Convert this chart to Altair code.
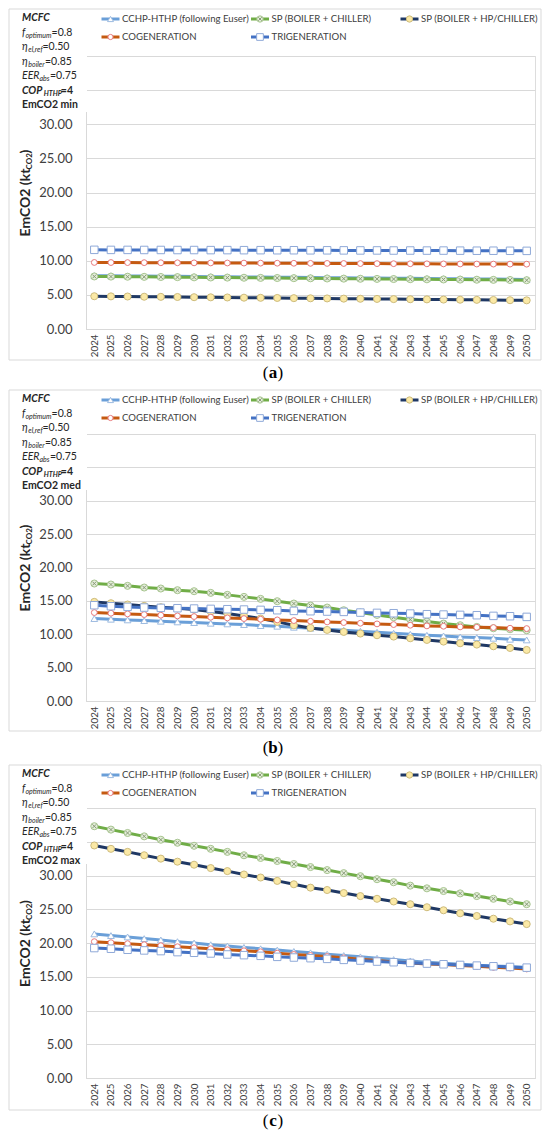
import altair as alt
import pandas as pd

YEARS = ["2024", "2025", "2026", "2027", "2028", "2029", "2030", "2031", "2032",
         "2033", "2034", "2035", "2036", "2037", "2038", "2039", "2040", "2041",
         "2042", "2043", "2044", "2045", "2046", "2047", "2048", "2049", "2050"]

SERIES = ["CCHP-HTHP (following Euser)", "SP (BOILER + CHILLER)",
          "SP (BOILER + HP/CHILLER)", "COGENERATION", "TRIGENERATION"]

# ---- panel (a): EmCO2 min ----
A_CCHP = [7.82, 7.80, 7.78, 7.76, 7.74, 7.72, 7.69, 7.67, 7.65, 7.63, 7.61, 7.59, 7.57, 7.55,
          7.52, 7.50, 7.48, 7.46, 7.44, 7.42, 7.40, 7.38, 7.36, 7.34, 7.32, 7.30, 7.27]
A_SPCH = [7.70, 7.68, 7.66, 7.64, 7.62, 7.60, 7.57, 7.55, 7.53, 7.51, 7.49, 7.47, 7.45, 7.43,
          7.40, 7.38, 7.36, 7.34, 7.32, 7.30, 7.28, 7.26, 7.24, 7.22, 7.20, 7.18, 7.15]
A_SPHP = [4.80, 4.78, 4.76, 4.73, 4.71, 4.69, 4.66, 4.64, 4.62, 4.59, 4.57, 4.55, 4.52, 4.50,
          4.48, 4.45, 4.43, 4.41, 4.38, 4.36, 4.34, 4.31, 4.29, 4.27, 4.25, 4.22, 4.20]
A_COGEN = [9.75, 9.74, 9.73, 9.72, 9.71, 9.70, 9.69, 9.68, 9.67, 9.66, 9.65, 9.64, 9.63, 9.62,
           9.61, 9.60, 9.59, 9.58, 9.57, 9.56, 9.55, 9.54, 9.53, 9.52, 9.51, 9.51, 9.50]
A_TRIGEN = [11.60, 11.59, 11.59, 11.58, 11.58, 11.57, 11.57, 11.56, 11.56, 11.55, 11.55, 11.54,
            11.54, 11.53, 11.53, 11.52, 11.51, 11.51, 11.50, 11.50, 11.49, 11.49, 11.48, 11.47,
            11.47, 11.46, 11.45]

# ---- panel (b): EmCO2 med ----
B_CCHP = [12.35, 12.25, 12.15, 12.05, 11.95, 11.85, 11.75, 11.65, 11.55, 11.45, 11.30, 11.20,
          11.05, 10.90, 10.75, 10.60, 10.45, 10.30, 10.15, 10.00, 9.85, 9.75, 9.60, 9.50, 9.40,
          9.25, 9.15]
B_SPCH = [17.60, 17.45, 17.25, 17.00, 16.85, 16.60, 16.45, 16.20, 15.90, 15.60, 15.30, 14.95,
          14.60, 14.30, 14.00, 13.60, 13.25, 12.90, 12.55, 12.20, 11.90, 11.60, 11.35, 11.10,
          10.90, 10.75, 10.60]
B_SPHP = [14.85, 14.65, 14.45, 14.25, 14.05, 13.90, 13.70, 13.40, 13.10, 12.75, 12.35, 11.85,
          11.35, 10.95, 10.65, 10.35, 10.10, 9.85, 9.65, 9.40, 9.15, 8.90, 8.65, 8.45, 8.20,
          7.95, 7.65]
B_COGEN = [13.25, 13.15, 13.05, 12.95, 12.85, 12.75, 12.65, 12.55, 12.45, 12.35, 12.25, 12.15,
           12.05, 11.95, 11.85, 11.75, 11.65, 11.55, 11.45, 11.35, 11.25, 11.20, 11.10, 11.05,
           11.00, 10.90, 10.85]
B_TRIGEN = [14.35, 14.20, 14.10, 14.00, 13.95, 13.90, 13.85, 13.80, 13.75, 13.70, 13.65, 13.60,
            13.50, 13.45, 13.40, 13.35, 13.25, 13.20, 13.15, 13.10, 13.00, 12.95, 12.90, 12.85,
            12.75, 12.70, 12.60]

# ---- panel (c): EmCO2 max ----
C_CCHP = [21.35, 21.10, 20.90, 20.65, 20.45, 20.20, 20.00, 19.75, 19.55, 19.35, 19.15, 18.95,
          18.75, 18.55, 18.35, 18.15, 17.95, 17.75, 17.55, 17.35, 17.15, 17.00, 16.85, 16.70,
          16.60, 16.50, 16.40]
C_SPCH = [37.30, 36.80, 36.30, 35.80, 35.30, 34.85, 34.40, 33.95, 33.50, 33.00, 32.60, 32.15,
          31.70, 31.25, 30.80, 30.35, 29.90, 29.45, 29.00, 28.50, 28.10, 27.70, 27.35, 26.95,
          26.55, 26.15, 25.75]
C_SPHP = [34.45, 33.95, 33.50, 33.00, 32.50, 32.05, 31.60, 31.10, 30.65, 30.15, 29.70, 29.20,
          28.70, 28.20, 27.85, 27.40, 26.95, 26.55, 26.15, 25.75, 25.30, 24.85, 24.40, 24.00,
          23.60, 23.20, 22.80]
C_COGEN = [20.20, 20.05, 19.90, 19.75, 19.60, 19.45, 19.30, 19.15, 19.00, 18.85, 18.70, 18.50,
           18.30, 18.15, 18.00, 17.80, 17.60, 17.40, 17.20, 17.05, 16.90, 16.80, 16.65, 16.55,
           16.40, 16.30, 16.15]
C_TRIGEN = [19.25, 19.15, 19.00, 18.90, 18.80, 18.65, 18.55, 18.45, 18.30, 18.20, 18.10, 17.95,
            17.85, 17.75, 17.65, 17.50, 17.40, 17.25, 17.15, 17.05, 16.95, 16.85, 16.75, 16.65,
            16.55, 16.45, 16.35]

Y_TICKS = [0, 5, 10, 15, 20, 25, 30, 35, 40]

# ---- styles (per series, same order as SERIES) ----
LINE_COL = ["#6a9fd8", "#70ad47", "#1f3864", "#c55a11", "#4472c4"]
MK_SHAPE = ["triangle-up", "circle", "circle", "circle", "square"]
MK_FILL = ["#ffffff", "#e4efd9", "#fbe9a6", "#ffffff", "#ffffff"]
MK_STROKE = ["#9dbbe0", "#a7c48f", "#cdbb7c", "#e8797b", "#8fa9d8"]
MK_SIZE = [45, 50, 50, 34, 56]
XPATH = "M-0.55,-0.55L0.55,0.55M0.55,-0.55L-0.55,0.55"

FONT = "Lato, DejaVu Sans, sans-serif"
W = 449

dummy = pd.DataFrame({"k": [0]})


def txt(s, x, y, size, weight="normal", style="normal", color="#262626",
        align="left", baseline="middle", angle=0, font=FONT):
    kw = dict(align=align, baseline=baseline, fontSize=size, fontWeight=weight,
              fontStyle=style, color=color, font=font)
    if angle:
        kw["angle"] = angle
    return alt.Chart(dummy).mark_text(**kw).encode(
        x=alt.value(x), y=alt.value(y), text=alt.value(s))


def panel(vals, tag, H, top_off, frame_bot, cap_y, bottom, em_label):
    rows = []
    for s, arr in zip(SERIES, vals):
        for yv, v in zip(YEARS, arr):
            rows.append({"year": yv, "series": s, "value": v})
    df = pd.DataFrame(rows)

    xenc = alt.X("year:O", sort=YEARS, scale=alt.Scale(domain=YEARS),
                 axis=alt.Axis(title=None, labelAngle=-90, labelFontSize=9.8,
                               labelColor="#404040", ticks=False, domainColor="#d9d9d9",
                               labelPadding=5, grid=False, labelFont=FONT))
    yenc = alt.Y("value:Q", scale=alt.Scale(domain=[0, 40], nice=False),
                 axis=alt.Axis(title=None, values=Y_TICKS,
                               labelExpr="datum.value > 30 ? '' : format(datum.value, '.2f')",
                               gridColor="#d9d9d9", domainColor="#d9d9d9", ticks=False,
                               labelFontSize=13, labelColor="#404040", labelPadding=14,
                               labelFont=FONT))

    layers = []
    # invisible bounds and frame
    layers.append(alt.Chart(dummy).mark_rect(opacity=0).encode(
        x=alt.value(-77), x2=alt.value(455), y=alt.value(top_off), y2=alt.value(bottom)))
    layers.append(alt.Chart(dummy).mark_rect(fillOpacity=0, stroke="#d9d9d9", strokeWidth=1).encode(
        x=alt.value(-77), x2=alt.value(455), y=alt.value(top_off), y2=alt.value(frame_bot)))

    base = alt.Chart(df)
    for i, s in enumerate(SERIES):
        sub = base.transform_filter(alt.datum.series == s)
        layers.append(sub.mark_line(color=LINE_COL[i], strokeWidth=3).encode(x=xenc, y=yenc))
        layers.append(sub.mark_point(shape=MK_SHAPE[i], filled=True, fill=MK_FILL[i],
                                     stroke=MK_STROKE[i], strokeWidth=1, size=MK_SIZE[i],
                                     opacity=1).encode(x=xenc, y=yenc))
        if i == 1:
            layers.append(sub.mark_point(shape=XPATH, filled=False, stroke="#8a9a7a",
                                         strokeWidth=1, size=50, opacity=1).encode(x=xenc, y=yenc))

    # white text box over the top-left corner
    layers.append(alt.Chart(dummy).mark_rect(color="white").encode(
        x=alt.value(-76), x2=alt.value(1), y=alt.value(top_off + 1), y2=alt.value(56)))

    # legend
    col_sym = [24.5, 174.0, 323.5]
    col_txt = [36.0, 185.5, 335.0]
    pos = [(0, 0), (1, 0), (2, 0), (0, 1), (1, 1)]
    row_y = [top_off + 10, top_off + 28]
    for i, s in enumerate(SERIES):
        c, r = pos[i]
        cx, cy = col_sym[c], row_y[r]
        layers.append(alt.Chart(dummy).mark_rule(color=LINE_COL[i], strokeWidth=3).encode(
            x=alt.value(cx - 9), x2=alt.value(cx + 9), y=alt.value(cy)))
        layers.append(alt.Chart(dummy).mark_point(shape=MK_SHAPE[i], filled=True, fill=MK_FILL[i],
                                                  stroke=MK_STROKE[i], strokeWidth=1,
                                                  size=MK_SIZE[i] * 0.8, opacity=1).encode(
            x=alt.value(cx), y=alt.value(cy)))
        if i == 1:
            layers.append(alt.Chart(dummy).mark_point(shape=XPATH, filled=False, stroke="#8a9a7a",
                                                      strokeWidth=1, size=40, opacity=1).encode(
                x=alt.value(cx), y=alt.value(cy)))
        layers.append(txt(s, col_txt[c], cy, 9.6, color="#404040"))

    # parameter text box
    x0 = -64
    ly = [top_off + d for d in (9, 23.5, 38, 52.5, 67, 81.5, 96)]
    M, S = 10.5, 7
    layers.append(txt("MCFC", x0, ly[0], M, "bold", "italic"))
    layers.append(txt("f", x0, ly[1], M, "normal", "italic"))
    layers.append(txt("optimum", x0 + 3.4, ly[1] + 3, S, "normal", "italic"))
    layers.append(txt("=0.8", x0 + 29.6, ly[1], M))
    layers.append(txt("\u03b7", x0, ly[2], M, "normal", "italic"))
    layers.append(txt("el,ref", x0 + 6.3, ly[2] + 3, S, "normal", "italic"))
    layers.append(txt("=0.50", x0 + 20.5, ly[2], M))
    layers.append(txt("\u03b7", x0, ly[3], M, "normal", "italic"))
    layers.append(txt("boiler", x0 + 6.3, ly[3] + 3, S, "normal", "italic"))
    layers.append(txt("=0.85", x0 + 23.0, ly[3], M))
    layers.append(txt("EER", x0, ly[4], M, "normal", "italic"))
    layers.append(txt("abs", x0 + 17.5, ly[4] + 3, S, "normal", "italic"))
    layers.append(txt("=0.75", x0 + 28.0, ly[4], M))
    layers.append(txt("COP", x0, ly[5], M, "bold", "italic"))
    layers.append(txt("HTHP", x0 + 21.8, ly[5] + 3, S, "bold", "italic"))
    layers.append(txt("=4", x0 + 38.8, ly[5], M, "bold"))
    layers.append(txt(em_label, x0, ly[6], M, "bold"))

    # y-axis title  EmCO2 (kt_CO2)
    ty = H / 2 + 44
    layers.append(txt("EmCO2 (kt", -60, ty, 14, "bold", angle=270))
    layers.append(txt("CO2", -56, ty - 67, 8, "bold", angle=270))
    layers.append(txt(")", -60, ty - 83, 14, "bold", angle=270))

    # caption (a)/(b)/(c)
    cx = 187
    serif = "Liberation Serif, DejaVu Serif, serif"
    layers.append(txt("(", cx - 4.5, cap_y, 17, align="right", color="#000000", font=serif))
    layers.append(txt(tag, cx, cap_y, 17, "bold", align="center", color="#000000", font=serif))
    layers.append(txt(")", cx + 4.5, cap_y, 17, align="left", color="#000000", font=serif))

    return alt.layer(*layers).properties(width=W, height=H)


pa = panel([A_CCHP, A_SPCH, A_SPHP, A_COGEN, A_TRIGEN], "a", 273, -47, 304, 317, 332, "EmCO2 min")
pb = panel([B_CCHP, B_SPCH, B_SPHP, B_COGEN, B_TRIGEN], "b", 267, -44, 297, 314, 329, "EmCO2 med")
pc = panel([C_CCHP, C_SPCH, C_SPHP, C_COGEN, C_TRIGEN], "c", 270, -43, 302, 313, 320, "EmCO2 max")

chart = alt.vconcat(pa, pb, pc, spacing=0).properties(padding=0, background="white").configure_view(
    strokeWidth=0).configure(font=FONT)

chart.save("out.html", embed_options={"renderer": "svg", "actions": False})
